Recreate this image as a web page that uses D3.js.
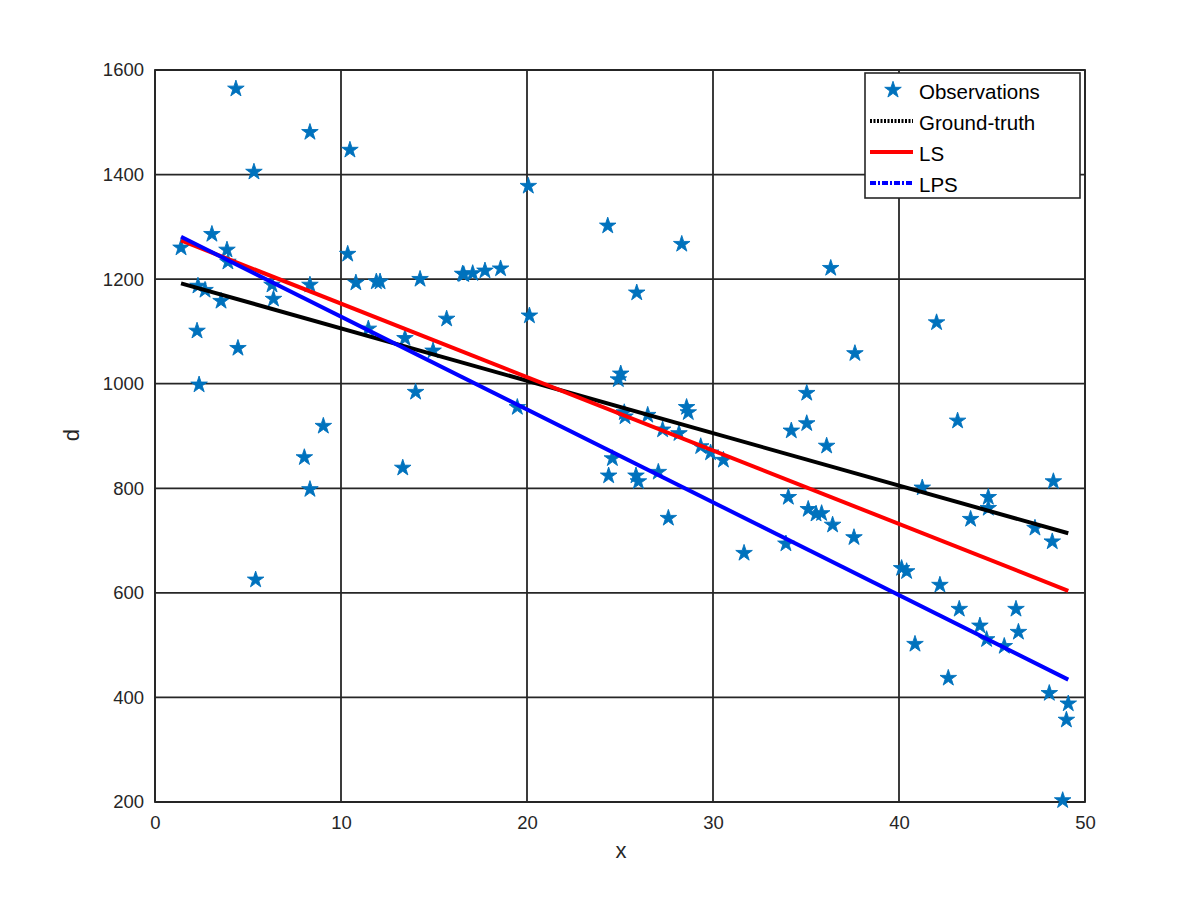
<!DOCTYPE html>
<html><head><meta charset="utf-8">
<script src="https://cdn.jsdelivr.net/npm/d3@7/dist/d3.min.js"></script>
<style>body{margin:0;background:#fff;} text{font-family:"Liberation Sans",Arial,sans-serif;}</style>
</head><body><svg id="c" width="1200" height="898"></svg>
<script>
const obsX = [1.40,3.06,3.87,3.92,4.35,5.32,8.33,10.48,2.31,2.69,3.55,2.26,4.46,2.37,6.29,6.37,8.33,10.36,10.8,11.9,12.1,14.25,16.54,15.68,11.47,13.44,14.95,14.01,9.05,8.03,8.33,13.32,5.41,
20.07,24.34,28.32,16.6,17.08,17.74,18.58,20.13,25.9,25.04,24.91,19.48,25.23,25.27,26.49,28.58,28.67,27.29,28.17,29.34,29.87,30.56,24.59,24.39,25.86,25.99,27.06,27.6,31.67,
36.33,42.02,37.63,35.04,34.21,35.04,36.11,43.15,41.25,48.3,44.8,44.8,43.85,47.31,48.24,34.05,35.12,35.54,35.84,36.43,37.58,33.92,40.14,40.41,42.2,43.24,46.29,44.35,46.42,44.71,45.66,40.86,42.65,48.08,49.1,49.0,48.8];
const obsD = [1260,1286,1256,1233,1564,1405,1481,1447,1187,1179,1158,1101,1068,998,1189,1162,1189,1248,1193,1195,1195,1200,1210,1124,1105,1087,1063,984,919,859,798,839,625,
1378,1302,1267,1209,1211,1216,1220,1130,1174,1019,1008,955,945,937,940,955,945,912,905,880,868,854,857,824,824,813,831,743,676,
1221,1117,1058,982,910,924,881,929,801,813,783,762,741,724,698,783,760,751,752,730,706,694,647,641,615,569,569,537,525,511,498,502,437,408,388,357,203];
const lineX = [1.4, 49.1];
const gtD = [1192, 714];
const lsD = [1274, 604];
const lpsD = [1281, 434];
const xTicks = [0,10,20,30,40,50];
const yTicks = [200,400,600,800,1000,1200,1400,1600];

const svg = d3.select("#c");
const L=155, R=1085, T=70, B=802;
const x = d3.scaleLinear().domain([0,50]).range([L,R]);
const y = d3.scaleLinear().domain([200,1600]).range([B,T]);
const ax = "#262626";

// grid
svg.append("g").selectAll("line").data(xTicks).join("line")
  .attr("x1",d=>x(d)).attr("x2",d=>x(d)).attr("y1",T).attr("y2",B)
  .attr("stroke",ax).attr("stroke-width",1.8);
svg.append("g").selectAll("line").data(yTicks).join("line")
  .attr("y1",d=>y(d)).attr("y2",d=>y(d)).attr("x1",L).attr("x2",R)
  .attr("stroke",ax).attr("stroke-width",1.8);

// axes
const fmt = d3.format("d");
const xa = svg.append("g").attr("transform",`translate(0,${B})`)
  .call(d3.axisBottom(x).tickValues(xTicks).tickFormat(fmt).tickSize(0).tickPadding(14));
const ya = svg.append("g").attr("transform",`translate(${L},0)`)
  .call(d3.axisLeft(y).tickValues(yTicks).tickFormat(fmt).tickSize(0).tickPadding(11));
[xa,ya].forEach(g=>{g.select(".domain").remove();
  g.selectAll("text").attr("font-size",18.5).attr("fill",ax).style("font-family","Liberation Sans, Arial, sans-serif");});
svg.append("rect").attr("x",L).attr("y",T).attr("width",R-L).attr("height",B-T)
  .attr("fill","none").attr("stroke",ax).attr("stroke-width",1.8);

svg.append("text").attr("x",621).attr("y",858).attr("text-anchor","middle")
  .attr("font-size",22).attr("fill",ax).text("x");
svg.append("text").attr("transform",`translate(79,435) rotate(-90)`).attr("text-anchor","middle")
  .attr("font-size",22).attr("fill",ax).text("d");

// observations
const star = d3.symbol().type(d3.symbolStar).size(85);
const obs = obsX.map((v,i)=>({x:v,d:obsD[i]}));
svg.append("g").selectAll("path").data(obs).join("path")
  .attr("d",star).attr("transform",d=>`translate(${x(d.x)},${y(d.d)})`)
  .attr("fill","#0072BD").attr("stroke","#0072BD").attr("stroke-width",0.9);

// lines
const ln = d3.line().x(d=>x(d[0])).y(d=>y(d[1]));
[[gtD,"#000000"],[lsD,"#ff0000"],[lpsD,"#0000ff"]].forEach(([ds,c])=>{
  svg.append("path").attr("d",ln(lineX.map((v,i)=>[v,ds[i]])))
    .attr("fill","none").attr("stroke",c).attr("stroke-width",4);
});

// legend
const lg = svg.append("g");
lg.append("rect").attr("x",865).attr("y",73).attr("width",215).attr("height",125)
  .attr("fill","#fff").attr("stroke",ax).attr("stroke-width",1.6);
const items = [
  {t:"Observations",type:"star"},
  {t:"Ground-truth",c:"#000",dash:"2,1.5"},
  {t:"LS",c:"#ff0000",dash:null},
  {t:"LPS",c:"#0000ff",dash:"6,2,2,2"}
];
items.forEach((it,i)=>{
  const yy = 90 + i*31;
  if(it.type==="star"){
    lg.append("path").attr("d",star).attr("transform",`translate(893,${yy})`)
      .attr("fill","#0072BD").attr("stroke","#0072BD").attr("stroke-width",0.9);
  } else {
    lg.append("line").attr("x1",870).attr("x2",913).attr("y1",yy).attr("y2",yy)
      .attr("stroke",it.c).attr("stroke-width",4).attr("stroke-dasharray",it.dash);
  }
  lg.append("text").attr("x",919).attr("y",yy+9).attr("font-size",20.5).attr("fill","#000").text(it.t);
});
</script></body></html>
